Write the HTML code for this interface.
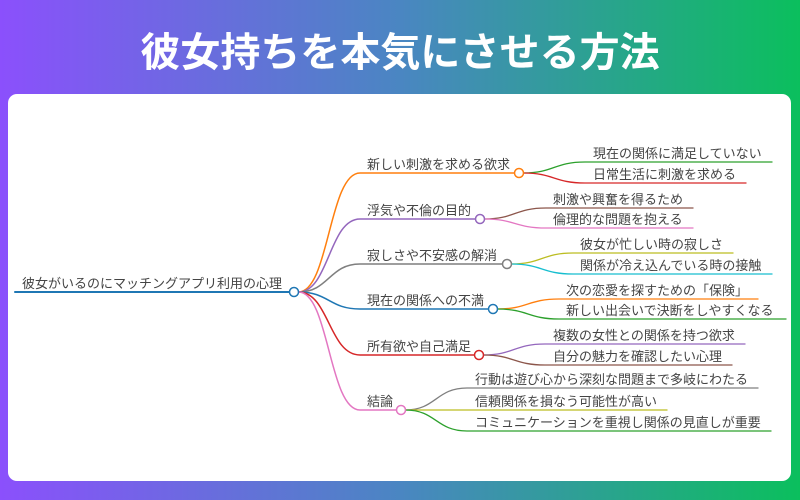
<!DOCTYPE html>
<html><head><meta charset="utf-8"><style>
html,body{margin:0;padding:0;}
body{width:800px;height:500px;overflow:hidden;background:linear-gradient(90deg,#8b50fc 0%,#4a86c2 50%,#0bbf5d 100%);}
svg{display:block;}
text{font-family:"Liberation Sans","Noto Sans CJK JP",sans-serif;}
.t{font-size:13px;fill:#444444;}
</style></head><body>
<svg width="800" height="500" viewBox="0 0 800 500" xmlns="http://www.w3.org/2000/svg">
<text x="400" y="66" text-anchor="middle" font-size="40" font-weight="bold" fill="#ffffff">彼女持ちを本気にさせる方法</text>
<rect x="8" y="94" width="783" height="387" rx="9" fill="#ffffff"/>
<g fill="none" stroke-linecap="round">
<path d="M15,292 H289.5" stroke="#1f77b4" stroke-width="2"/>
<g stroke-width="1.5">
<path d="M298.5,292 C329,292 329,173 360,173 H514.5" stroke="#ff7f0e"/>
<path d="M298.5,292 C329,292 329,219 360,219 H475.5" stroke="#9467bd"/>
<path d="M298.5,292 C329,292 329,264 360,264 H502.5" stroke="#7f7f7f"/>
<path d="M298.5,292 C329,292 329,309 360,309 H488.5" stroke="#1f77b4"/>
<path d="M298.5,292 C329,292 329,355 360,355 H474.5" stroke="#d62728"/>
<path d="M298.5,292 C329,292 329,410 360,410 H396.5" stroke="#e377c2"/>
</g>
<g stroke-width="1.3">
<path d="M523.5,173 C554,173 554,162 585,162 H772" stroke="#2ca02c"/>
<path d="M523.5,173 C554,173 554,183 585,183 H746" stroke="#d62728"/>
<path d="M484.5,219 C515,219 515,208 546,208 H693" stroke="#8c564b"/>
<path d="M484.5,219 C515,219 515,228 546,228 H693" stroke="#e377c2"/>
<path d="M511.5,264 C542,264 542,253 573,253 H733" stroke="#bcbd22"/>
<path d="M511.5,264 C542,264 542,274 573,274 H772" stroke="#17becf"/>
<path d="M497.5,309 C528,309 528,299 559,299 H758" stroke="#ff7f0e"/>
<path d="M497.5,309 C528,309 528,319 559,319 H786" stroke="#2ca02c"/>
<path d="M483.5,355 C514,355 514,344 545,344 H745" stroke="#9467bd"/>
<path d="M483.5,355 C514,355 514,365 545,365 H732" stroke="#8c564b"/>
<path d="M405.5,410 C436,410 436,388 467,388 H758" stroke="#7f7f7f"/>
<path d="M405.5,410 C436,410 436,410 467,410 H667" stroke="#bcbd22"/>
<path d="M405.5,410 C436,410 436,431 467,431 H771" stroke="#2ca02c"/>
</g>
</g>
<g fill="#ffffff" stroke-width="1.5">
<circle cx="294" cy="292" r="4.5" stroke="#1f77b4"/>
<circle cx="519" cy="173" r="4.5" stroke="#ff7f0e"/>
<circle cx="480" cy="219" r="4.5" stroke="#9467bd"/>
<circle cx="507" cy="264" r="4.5" stroke="#7f7f7f"/>
<circle cx="493" cy="309" r="4.5" stroke="#1f77b4"/>
<circle cx="479" cy="355" r="4.5" stroke="#d62728"/>
<circle cx="401" cy="410" r="4.5" stroke="#e377c2"/>
</g>
<g class="t">
<text class="t" x="22" y="288">彼女がいるのにマッチングアプリ利用の心理</text>
<text class="t" x="367" y="169">新しい刺激を求める欲求</text>
<text class="t" x="367" y="215">浮気や不倫の目的</text>
<text class="t" x="367" y="260">寂しさや不安感の解消</text>
<text class="t" x="367" y="305">現在の関係への不満</text>
<text class="t" x="367" y="351">所有欲や自己満足</text>
<text class="t" x="367" y="406">結論</text>
<text class="t" x="593" y="158">現在の関係に満足していない</text>
<text class="t" x="593" y="179">日常生活に刺激を求める</text>
<text class="t" x="553" y="204">刺激や興奮を得るため</text>
<text class="t" x="553" y="224">倫理的な問題を抱える</text>
<text class="t" x="580" y="249">彼女が忙しい時の寂しさ</text>
<text class="t" x="580" y="270">関係が冷え込んでいる時の接触</text>
<text class="t" x="566" y="295">次の恋愛を探すための「保険」</text>
<text class="t" x="566" y="315">新しい出会いで決断をしやすくなる</text>
<text class="t" x="553" y="340">複数の女性との関係を持つ欲求</text>
<text class="t" x="553" y="361">自分の魅力を確認したい心理</text>
<text class="t" x="475" y="384">行動は遊び心から深刻な問題まで多岐にわたる</text>
<text class="t" x="475" y="406">信頼関係を損なう可能性が高い</text>
<text class="t" x="475" y="427">コミュニケーションを重視し関係の見直しが重要</text>
</g>
</svg>
</body></html>
